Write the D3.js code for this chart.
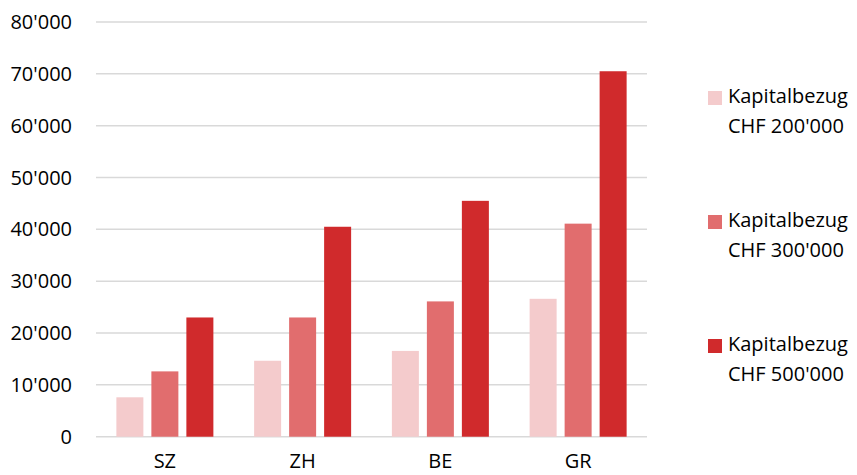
<!DOCTYPE html>
<html>
<head>
<meta charset="utf-8">
<script src="https://cdn.jsdelivr.net/npm/d3@7"></script>
<style>
  body { margin: 0; background: #fff; }
  text { font-family: "Open Sans", sans-serif; fill: #000; }
</style>
</head>
<body>
<div id="chart"></div>
<script>
var width = 857, height = 475;

// data
var cantons = ["SZ", "ZH", "BE", "GR"];
var seriesNames = ["Kapitalbezug CHF 200'000", "Kapitalbezug CHF 300'000", "Kapitalbezug CHF 500'000"];
var values200 = [7600, 14650, 16550, 26600];
var values300 = [12600, 23000, 26100, 41100];
var values500 = [23000, 40500, 45500, 70500];
var yTicks = [0, 10000, 20000, 30000, 40000, 50000, 60000, 70000, 80000];
var colors = ["#f4cbcc", "#e16d6e", "#d02a2c"];

var series = [values200, values300, values500];

var svg = d3.select("#chart").append("svg")
    .attr("width", width)
    .attr("height", height);

var plotLeft = 96, plotRight = 647, plotTop = 22, plotBottom = 436.7;

var y = d3.scaleLinear().domain([0, 80000]).range([plotBottom, plotTop]);
var x = d3.scaleBand().domain(cantons).range([plotLeft, plotRight]).paddingInner(0).paddingOuter(0);

var fmt = function (d) {
  return d3.format(",")(d).replace(/,/g, "'");
};

// gridlines
svg.append("g").selectAll("line")
    .data(yTicks)
    .enter().append("line")
    .attr("x1", plotLeft)
    .attr("x2", plotRight)
    .attr("y1", d => y(d))
    .attr("y2", d => y(d))
    .style("stroke", "#d9d9d9")
    .style("stroke-width", 1.5);

// y labels
svg.append("g").selectAll("text")
    .data(yTicks)
    .enter().append("text")
    .attr("x", 72)
    .attr("y", d => y(d) + 7)
    .attr("text-anchor", "end")
    .style("font-size", "20px")
    .text(fmt);

// bars
var barW = 27, barGap = 8;
var groupW = 3 * barW + 2 * barGap;

series.forEach(function (vals, si) {
  svg.append("g").selectAll("rect")
      .data(vals)
      .enter().append("rect")
      .attr("x", (d, i) => x(cantons[i]) + x.bandwidth() / 2 - groupW / 2 + si * (barW + barGap))
      .attr("y", d => y(d))
      .attr("width", barW)
      .attr("height", d => plotBottom - y(d))
      .style("fill", colors[si]);
});

// x labels
svg.append("g").selectAll("text")
    .data(cantons)
    .enter().append("text")
    .attr("x", d => x(d) + x.bandwidth() / 2)
    .attr("y", 468)
    .attr("text-anchor", "middle")
    .style("font-size", "20px")
    .text(d => d);

// legend
var legend = svg.append("g").selectAll("g")
    .data(seriesNames)
    .enter().append("g")
    .attr("transform", (d, i) => "translate(708," + (91 + i * 124) + ")");

legend.append("rect")
    .attr("width", 14)
    .attr("height", 14)
    .style("fill", (d, i) => colors[i]);

legend.append("text")
    .attr("x", 20)
    .attr("y", 12)
    .style("font-size", "20px")
    .text(d => d.split(" ")[0]);

legend.append("text")
    .attr("x", 20)
    .attr("y", 42)
    .style("font-size", "20px")
    .text(d => d.split(" ").slice(1).join(" "));
</script>
</body>
</html>
